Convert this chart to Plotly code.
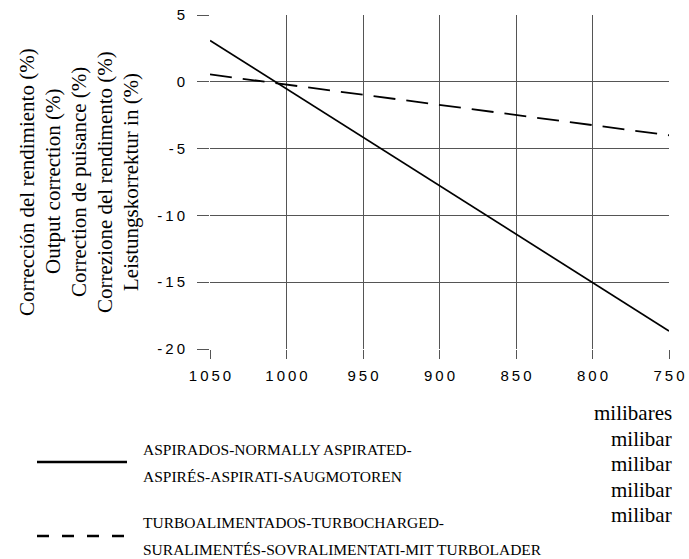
import plotly.graph_objects as go

# ---- data ----
pressure_mbar = [1050, 750]
aspirated_pct = [3.1, -18.65]
turbo_pct = [0.55, -4.0]

x_ticks = [1050, 1000, 950, 900, 850, 800, 750]
y_ticks = [5, 0, -5, -10, -15, -20]

y_title_lines = [
    "Corrección del rendimiento (%)",
    "Output correction (%)",
    "Correction de puisance (%)",
    "Correzione del rendimento (%)",
    "Leistungskorrektur in (%)",
]
unit_lines = ["milibares", "milibar", "milibar", "milibar", "milibar"]
legend_aspirated = ["ASPIRADOS-NORMALLY ASPIRATED-", "ASPIRÉS-ASPIRATI-SAUGMOTOREN"]
legend_turbo = ["TURBOALIMENTADOS-TURBOCHARGED-", "SURALIMENTÉS-SOVRALIMENTATI-MIT TURBOLADER"]

SP = "\u2009"
def spaced(v):
    return SP.join(str(v))

W, H = 689, 559
plot_left, plot_right, plot_top, plot_bottom = 210, 669, 15, 349
L, T = plot_left, plot_top
R, B = W - plot_right, H - plot_bottom
pw, ph = W - L - R, H - T - B

def px(xw):
    return (xw - L) / pw

def py(yw):
    return (H - B - yw) / ph

serif = "Liberation Serif, Times New Roman, serif"
sans = "Liberation Sans, Arial, sans-serif"

fig = go.Figure()
fig.add_trace(go.Scatter(x=pressure_mbar, y=aspirated_pct, mode="lines",
                         line=dict(color="black", width=1.7), showlegend=False))
fig.add_trace(go.Scatter(x=pressure_mbar, y=turbo_pct, mode="lines",
                         line=dict(color="black", width=1.8, dash="22px,11px"), showlegend=False))

grid_col = "#555555"
fig.update_xaxes(range=[1050, 750], tickvals=x_ticks, ticktext=[spaced(v) for v in x_ticks],
                 showgrid=True, gridcolor=grid_col, gridwidth=1, zeroline=False,
                 ticks="outside", ticklen=9, tickcolor=grid_col, tickwidth=1,
                 showline=False, tickfont=dict(family=sans, size=15, color="black"),
                 ticklabelstandoff=4, ticklabeloverflow="allow", automargin=False)
fig.update_yaxes(range=[-20, 5], tickvals=y_ticks, ticktext=[spaced(v) for v in y_ticks],
                 showgrid=True, gridcolor=grid_col, gridwidth=1, zeroline=False,
                 ticks="outside", ticklen=12, tickcolor=grid_col, tickwidth=1,
                 showline=False, tickfont=dict(family=sans, size=15, color="black"),
                 ticklabelstandoff=9, ticklabeloverflow="allow", automargin=False)

annotations = []
title_x = [27, 53, 79, 105, 131]
for xi, t in zip(title_x, y_title_lines):
    annotations.append(dict(xref="paper", yref="paper", x=px(xi), y=py(182), xanchor="center",
                            yanchor="middle", text=t, textangle=-90, showarrow=False,
                            font=dict(family=serif, size=21, color="black")))
for i, t in enumerate(unit_lines):
    annotations.append(dict(xref="paper", yref="paper", x=px(674), y=py(413 + 25.5 * i),
                            xanchor="right", yanchor="middle", text=t, showarrow=False,
                            font=dict(family=serif, size=21, color="black")))
for i, t in enumerate(legend_aspirated):
    annotations.append(dict(xref="paper", yref="paper", x=px(141), y=py(449 + 27 * i),
                            xanchor="left", yanchor="middle", text=t, showarrow=False,
                            font=dict(family=serif, size=15.5, color="black")))
for i, t in enumerate(legend_turbo):
    annotations.append(dict(xref="paper", yref="paper", x=px(141), y=py(522 + 27 * i),
                            xanchor="left", yanchor="middle", text=t, showarrow=False,
                            font=dict(family=serif, size=15.5, color="black")))

shapes = [
    dict(type="line", xref="paper", yref="paper", x0=px(37), x1=px(127), y0=py(462), y1=py(462),
         line=dict(color="black", width=2.6)),
    dict(type="line", xref="paper", yref="paper", x0=px(37), x1=px(127), y0=py(536), y1=py(536),
         line=dict(color="black", width=2.6, dash="12px,13px")),
]

fig.update_layout(width=W, height=H, margin=dict(l=L, r=R, t=T, b=B, autoexpand=False),
                  paper_bgcolor="white", plot_bgcolor="white",
                  annotations=annotations, shapes=shapes, showlegend=False)

fig.write_html("out.html", config={"displayModeBar": False},
               post_script="document.body.style.margin='0px';document.body.style.overflow='hidden';")
